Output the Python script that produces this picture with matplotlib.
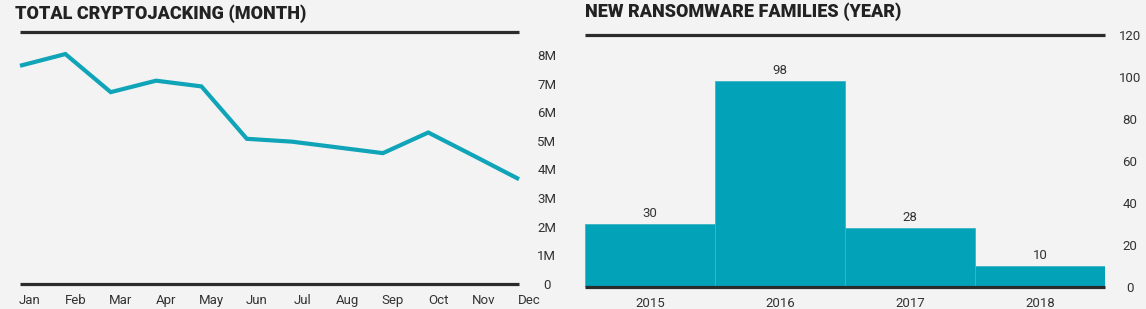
import numpy as np
import matplotlib.pyplot as plt
import matplotlib.transforms as mtransforms

# data
months = ['Jan', 'Feb', 'Mar', 'Apr', 'May', 'Jun', 'Jul', 'Aug', 'Sep', 'Oct', 'Nov', 'Dec']
cryptojacking = [7.62e6, 8.03e6, 6.70e6, 7.10e6, 6.90e6, 5.07e6, 4.97e6, 4.77e6, 4.57e6, 5.29e6, 4.48e6, 3.66e6]
years = ['2015', '2016', '2017', '2018']
families = [30, 98, 28, 10]

bg = '#f3f3f3'
teal = '#0fa4b8'
bar_col = '#02a3b8'
dark = '#2b2b2b'
txt = '#333333'
tick_font = ['Roboto', 'DejaVu Sans']
title_font = ['Roboto', 'DejaVu Sans']

W, H = 1146, 309
fig = plt.figure(figsize=(W / 100, H / 100), dpi=100, facecolor=bg)

def box(x0, x1, ytop, ybot):
    return [x0 / W, 1 - ybot / H, (x1 - x0) / W, (ybot - ytop) / H]

def style(ax):
    ax.set_facecolor(bg)
    for s in ['left', 'right']:
        ax.spines[s].set_visible(False)
    for s in ['top', 'bottom']:
        ax.spines[s].set_color(dark)
        ax.spines[s].set_linewidth(2.3)
        ax.spines[s].set_capstyle('butt')
    ax.tick_params(length=0, colors=txt)
    ax.yaxis.tick_right()

# left: line chart
ax1 = fig.add_axes(box(20, 519, 32, 284))
style(ax1)
x = np.arange(len(months))
ax1.plot(x, cryptojacking, color=teal, lw=3, solid_joinstyle='miter', solid_capstyle='butt', clip_on=False)
ax1.set_xlim(0, 11)
ax1.set_ylim(0, 8.8e6)
ax1.set_xticks(x)
ax1.set_xticklabels(months, fontsize=9.5, family=tick_font)
yt = np.arange(0, 9) * 1e6
ax1.set_yticks(yt)
ax1.set_yticklabels(['0'] + ['%dM' % i for i in range(1, 9)], fontsize=9.5, family=tick_font, ha='center')
ax1.tick_params(axis='y', pad=20)
ax1.tick_params(axis='x', pad=7)
off = mtransforms.ScaledTranslation(10 / 100, 0, fig.dpi_scale_trans)
for lab in ax1.get_xticklabels():
    lab.set_transform(lab.get_transform() + off)
fig.text(15 / W, 1 - 14 / H, 'TOTAL CRYPTOJACKING (MONTH)', fontsize=13, fontweight='black',
         family=title_font, color='#222222', va='center', ha='left')

# right: bar chart
ax2 = fig.add_axes(box(585, 1105, 35, 287))
style(ax2)
xb = np.arange(len(years))
bars = ax2.bar(xb, families, width=1.0, color=bar_col, edgecolor='#3bb5c6', linewidth=0.6)
ax2.set_xlim(-0.5, 3.5)
ax2.set_ylim(0, 120)
ax2.set_xticks(xb)
ax2.set_xticklabels(years, fontsize=9.5, family=tick_font)
ax2.set_yticks(np.arange(0, 121, 20))
ax2.set_yticklabels([str(v) for v in range(0, 121, 20)], fontsize=9.5, family=tick_font, ha='center')
ax2.tick_params(axis='y', pad=18)
ax2.tick_params(axis='x', pad=7.5)
for b, v in zip(bars, families):
    ax2.annotate(str(v), (b.get_x() + b.get_width() / 2, v), xytext=(0, 3), textcoords='offset points',
                 ha='center', va='bottom', fontsize=9.5, family=tick_font, color=txt)
fig.text(585 / W, 1 - 12 / H, 'NEW RANSOMWARE FAMILIES (YEAR)', fontsize=13, fontweight='black',
         family=title_font, color='#222222', va='center', ha='left')

fig.savefig('out.png', dpi=100, facecolor=bg)
